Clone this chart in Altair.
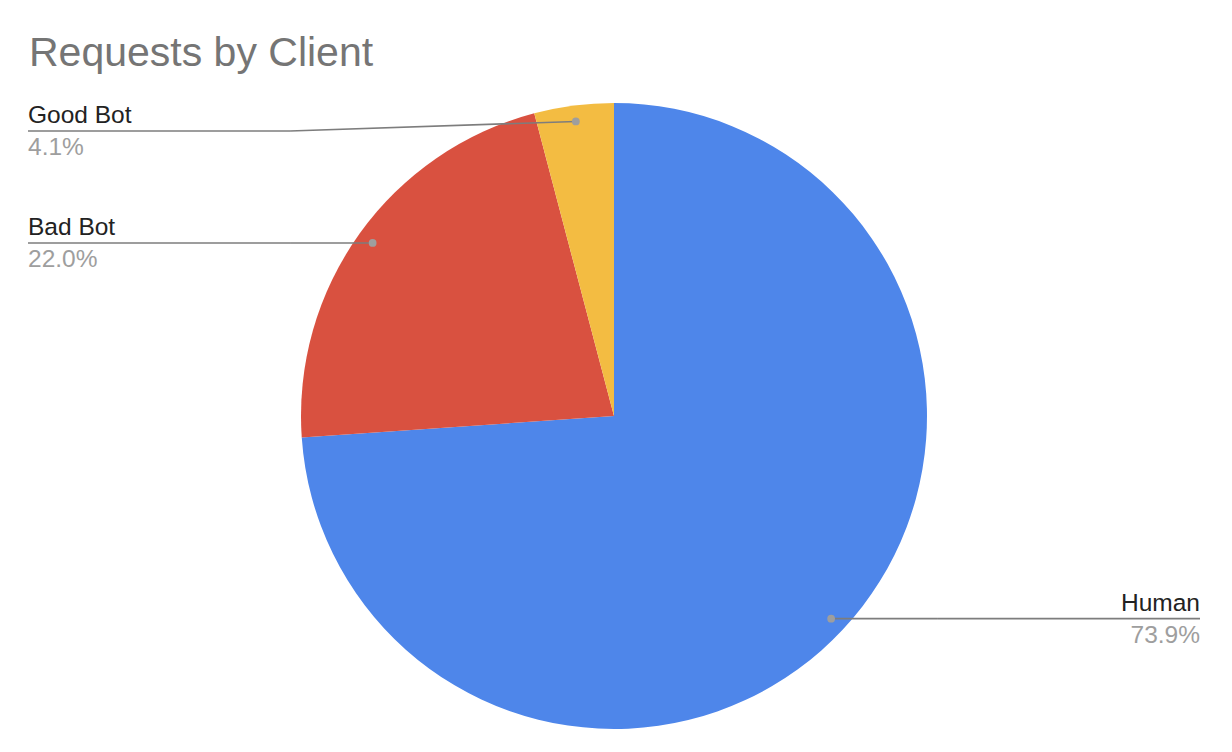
import altair as alt
import pandas as pd

# ---- data ----
clients = ["Human", "Bad Bot", "Good Bot"]
shares = [73.9, 22.0, 4.1]
colors = ["#4e86ea", "#d95140", "#f3bc42"]

df = pd.DataFrame({"client": clients, "share": shares, "rank": list(range(len(clients)))})

# ---- layout (styles / sizes) ----
W, H = 1172, 652
R = 313
XR = W / 2 / R
YR = H / 2 / R
DOT = 297 / R
LABEL_CEIL = 0.9105
BEND = 1.035
FONT = "Liberation Sans"

base = alt.Chart(df)

pie = base.mark_arc(outerRadius=R).encode(
    theta=alt.Theta("share:Q", stack=True),
    color=alt.Color("client:N", scale=alt.Scale(domain=clients, range=colors), legend=None),
    order=alt.Order("rank:Q"),
)

geo = base.transform_joinaggregate(total="sum(share)").transform_window(
    cum="sum(share)", sort=[alt.SortField("rank")], frame=[None, 0]
).transform_calculate(
    mid="2*PI*(datum.cum - datum.share/2)/datum.total",
    dx=f"{DOT}*sin(datum.mid)",
    dy=f"{DOT}*cos(datum.mid)",
    side="datum.dx < 0 ? -1 : 1",
    lx=f"datum.side*{XR}",
    bx=f"datum.side*{BEND}",
    ly=f"min(datum.dy, {LABEL_CEIL})",
    pct="format(datum.share/datum.total, '.1%')",
)

xs = alt.Scale(domain=[-XR, XR], nice=False, zero=False)
ys = alt.Scale(domain=[-YR, YR], nice=False, zero=False)

LINE_COLOR = "#7d7d7d"

hline = geo.mark_rule(color=LINE_COLOR, strokeWidth=1.6).encode(
    x=alt.X("lx:Q", scale=xs, axis=None),
    x2="bx:Q",
    y=alt.Y("ly:Q", scale=ys, axis=None),
)
diag = geo.mark_rule(color=LINE_COLOR, strokeWidth=1.6).encode(
    x=alt.X("bx:Q", scale=xs, axis=None),
    x2="dx:Q",
    y=alt.Y("ly:Q", scale=ys, axis=None),
    y2="dy:Q",
)
dots = geo.mark_circle(color="#9e9e9e", opacity=1, size=60).encode(
    x=alt.X("dx:Q", scale=xs, axis=None),
    y=alt.Y("dy:Q", scale=ys, axis=None),
)


def labels(cond, align):
    g = geo.transform_filter(cond)
    name = g.mark_text(align=align, baseline="alphabetic", dy=-8, fontSize=24.5,
                       font=FONT, color="#222222").encode(
        x=alt.X("lx:Q", scale=xs, axis=None),
        y=alt.Y("ly:Q", scale=ys, axis=None),
        text="client:N",
    )
    pct = g.mark_text(align=align, baseline="alphabetic", dy=24, fontSize=24.5,
                      font=FONT, color="#9e9e9e").encode(
        x=alt.X("lx:Q", scale=xs, axis=None),
        y=alt.Y("ly:Q", scale=ys, axis=None),
        text="pct:N",
    )
    return name + pct


chart = alt.layer(
    pie, hline, diag, dots,
    labels("datum.side < 0", "left"),
    labels("datum.side > 0", "right"),
).properties(
    width=W,
    height=H,
    autosize="none",
    padding={"left": 20, "top": 82, "right": 0, "bottom": 0},
    title=alt.TitleParams(
        "Requests by Client",
        anchor="start",
        frame="group",
        fontSize=41,
        font=FONT,
        fontWeight="normal",
        color="#757575",
        baseline="alphabetic",
        offset=24,
        dy=41,
        dx=1,
    ),
).configure_view(stroke=None)

chart.save("out.html", embed_options={"renderer": "svg", "actions": False})
